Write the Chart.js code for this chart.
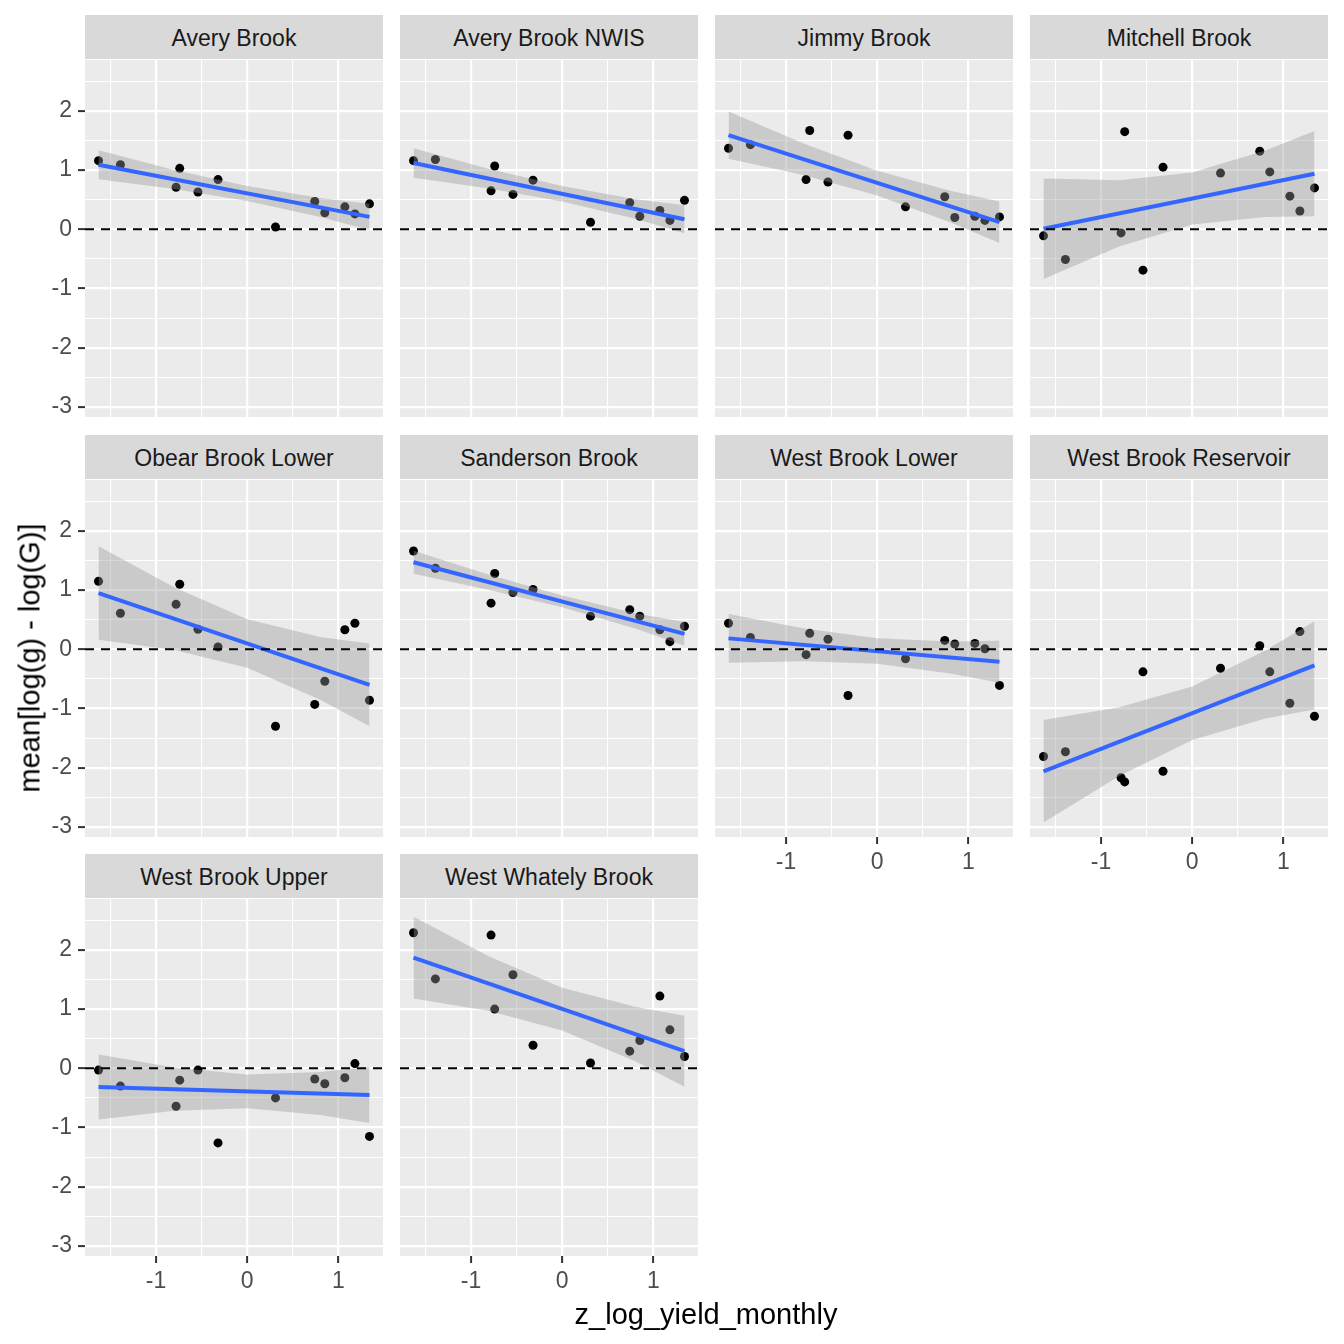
<!DOCTYPE html>
<html><head><meta charset="utf-8">
<script src="https://cdn.jsdelivr.net/npm/chart.js@4.4.1/dist/chart.umd.min.js"></script>
<style>
html,body{margin:0;padding:0;background:#fff;}
#root{position:relative;width:1344px;height:1344px;overflow:hidden;font-family:'Liberation Sans',Arial,sans-serif;background:#fff;}
.strip{position:absolute;background:#D9D9D9;color:#1A1A1A;font-size:23px;display:flex;align-items:center;justify-content:center;white-space:nowrap;box-sizing:border-box;padding-top:3px;}
canvas{position:absolute;}
.title{position:absolute;color:#000;font-size:29px;white-space:nowrap;transform-origin:center center;}
</style></head><body><div id="root"></div><script>
// ---------------- data ----------------
const SITES = ['Avery Brook','Avery Brook NWIS','Jimmy Brook','Mitchell Brook','Obear Brook Lower','Sanderson Brook','West Brook Lower','West Brook Reservoir','West Brook Upper','West Whately Brook'];
const X_VALUES = [-1.63, -1.39, -0.78, -0.74, -0.54, -0.32, 0.31, 0.74, 0.85, 1.07, 1.18, 1.34];

const Y_AVERY_BROOK          = [1.16, 1.09, 0.71, 1.03, 0.63, 0.84, 0.04, 0.47, 0.28, 0.38, 0.26, 0.43];
const Y_AVERY_BROOK_NWIS     = [1.16, 1.18, 0.65, 1.07, 0.59, 0.83, 0.12, 0.45, 0.22, 0.32, 0.15, 0.49];
const Y_JIMMY_BROOK          = [1.37, 1.43, 0.84, 1.67, 0.80, 1.59, 0.38, 0.55, 0.20, 0.22, 0.15, 0.21];
const Y_MITCHELL_BROOK       = [-0.11, -0.51, -0.06, 1.65, -0.69, 1.05, 0.95, 1.32, 0.97, 0.56, 0.31, 0.70];
const Y_OBEAR_BROOK_LOWER    = [1.15, 0.61, 0.76, 1.10, 0.34, 0.04, -1.30, -0.93, -0.54, 0.33, 0.44, -0.86];
const Y_SANDERSON_BROOK      = [1.66, 1.37, 0.78, 1.28, 0.96, 1.01, 0.56, 0.67, 0.56, 0.33, 0.13, 0.39];
const Y_WEST_BROOK_LOWER     = [0.44, 0.20, -0.09, 0.27, 0.17, -0.78, -0.16, 0.15, 0.09, 0.10, 0.01, -0.61];
const Y_WEST_BROOK_RESERVOIR = [-1.81, -1.73, -2.17, -2.24, -0.38, -2.06, -0.32, 0.06, -0.38, -0.91, 0.30, -1.13];
const Y_WEST_BROOK_UPPER     = [-0.03, -0.30, -0.64, -0.20, -0.03, -1.26, -0.50, -0.18, -0.26, -0.16, 0.08, -1.15];
const Y_WEST_WHATELY_BROOK   = [2.29, 1.51, 2.25, 1.00, 1.58, 0.39, 0.09, 0.29, 0.47, 1.22, 0.65, 0.20];

// fitted lm line, read at the two ends of the data range
const FIT_X = [-1.63, 1.34];
const FIT_AVERY_BROOK          = [1.09, 0.21];
const FIT_AVERY_BROOK_NWIS     = [1.12, 0.17];
const FIT_JIMMY_BROOK          = [1.59, 0.12];
const FIT_MITCHELL_BROOK       = [0.01, 0.94];
const FIT_OBEAR_BROOK_LOWER    = [0.95, -0.60];
const FIT_SANDERSON_BROOK      = [1.47, 0.26];
const FIT_WEST_BROOK_LOWER     = [0.185, -0.21];
const FIT_WEST_BROOK_RESERVOIR = [-2.06, -0.27];
const FIT_WEST_BROOK_UPPER     = [-0.315, -0.45];
const FIT_WEST_WHATELY_BROOK   = [1.87, 0.29];

// confidence band, read at these x positions
const BAND_X = [-1.63, -0.8, 0, 0.8, 1.34];
const UP_AVERY_BROOK          = [1.335, 1.00, 0.73, 0.53, 0.43];
const LO_AVERY_BROOK          = [0.845, 0.68, 0.48, 0.21, -0.01];
const UP_AVERY_BROOK_NWIS     = [1.37, 1.02, 0.73, 0.51, 0.405];
const LO_AVERY_BROOK_NWIS     = [0.87, 0.69, 0.47, 0.18, -0.065];
const UP_JIMMY_BROOK          = [1.99, 1.445, 0.99, 0.65, 0.47];
const LO_JIMMY_BROOK          = [1.19, 0.915, 0.57, 0.12, -0.23];
const UP_MITCHELL_BROOK       = [0.86, 0.83, 0.96, 1.33, 1.66];
const LO_MITCHELL_BROOK       = [-0.84, -0.29, 0.08, 0.21, 0.22];
const UP_OBEAR_BROOK_LOWER    = [1.74, 1.05, 0.51, 0.21, 0.10];
const LO_OBEAR_BROOK_LOWER    = [0.16, -0.01, -0.31, -0.85, -1.30];
const UP_SANDERSON_BROOK      = [1.665, 1.26, 0.91, 0.61, 0.46];
const LO_SANDERSON_BROOK      = [1.275, 1.00, 0.71, 0.35, 0.06];
const UP_WEST_BROOK_LOWER     = [0.595, 0.35, 0.185, 0.133, 0.145];
const LO_WEST_BROOK_LOWER     = [-0.225, -0.20, -0.245, -0.407, -0.565];
const UP_WEST_BROOK_RESERVOIR = [-1.195, -0.98, -0.63, -0.02, 0.475];
const LO_WEST_BROOK_RESERVOIR = [-2.925, -2.14, -1.53, -1.17, -1.015];
const UP_WEST_BROOK_UPPER     = [0.235, 0.012, -0.104, -0.06, 0.025];
const LO_WEST_BROOK_UPPER     = [-0.865, -0.718, -0.674, -0.79, -0.925];
const UP_WEST_WHATELY_BROOK   = [2.56, 1.89, 1.36, 1.04, 0.89];
const LO_WEST_WHATELY_BROOK   = [1.18, 0.97, 0.64, 0.12, -0.31];

const ZERO_LINE_Y = 0;
const X_MIN = -1.778, X_MAX = 1.488;
const Y_MIN = -3.17, Y_MAX = 2.86;
const X_TITLE = 'z_log_yield_monthly';
const Y_TITLE = 'mean[log(g) - log(G)]';

const PANEL_Y   = [Y_AVERY_BROOK, Y_AVERY_BROOK_NWIS, Y_JIMMY_BROOK, Y_MITCHELL_BROOK, Y_OBEAR_BROOK_LOWER, Y_SANDERSON_BROOK, Y_WEST_BROOK_LOWER, Y_WEST_BROOK_RESERVOIR, Y_WEST_BROOK_UPPER, Y_WEST_WHATELY_BROOK];
const PANEL_FIT = [FIT_AVERY_BROOK, FIT_AVERY_BROOK_NWIS, FIT_JIMMY_BROOK, FIT_MITCHELL_BROOK, FIT_OBEAR_BROOK_LOWER, FIT_SANDERSON_BROOK, FIT_WEST_BROOK_LOWER, FIT_WEST_BROOK_RESERVOIR, FIT_WEST_BROOK_UPPER, FIT_WEST_WHATELY_BROOK];
const PANEL_UP  = [UP_AVERY_BROOK, UP_AVERY_BROOK_NWIS, UP_JIMMY_BROOK, UP_MITCHELL_BROOK, UP_OBEAR_BROOK_LOWER, UP_SANDERSON_BROOK, UP_WEST_BROOK_LOWER, UP_WEST_BROOK_RESERVOIR, UP_WEST_BROOK_UPPER, UP_WEST_WHATELY_BROOK];
const PANEL_LO  = [LO_AVERY_BROOK, LO_AVERY_BROOK_NWIS, LO_JIMMY_BROOK, LO_MITCHELL_BROOK, LO_OBEAR_BROOK_LOWER, LO_SANDERSON_BROOK, LO_WEST_BROOK_LOWER, LO_WEST_BROOK_RESERVOIR, LO_WEST_BROOK_UPPER, LO_WEST_WHATELY_BROOK];

// ---------------- layout ----------------
const PANEL_LEFT = [85, 400, 715, 1030];
const PANEL_W = 298;
const STRIP_TOP = [15, 435, 854];
const STRIP_H = 44;
const PLOT_TOP = [60, 480, 899];
const PLOT_H = 357;
const X_AXIS_H = 45;
const FONT = "'Liberation Sans', Arial, sans-serif";

Chart.defaults.font.family = FONT;
const root = document.getElementById('root');

const panelBg = {
  id: 'panelBg',
  beforeDraw(chart) {
    const a = chart.chartArea, c = chart.ctx;
    c.save(); c.fillStyle = '#EBEBEB';
    c.fillRect(a.left, a.top, a.right - a.left, a.bottom - a.top);
    c.restore();
  }
};

const isMajor = ctx => ctx.tick && Number.isInteger(ctx.tick.value);
const pts = (xs, ys) => xs.map((x, j) => ({x: x, y: ys[j]}));

function zeroPad(s) { s.paddingLeft = 0; s.paddingRight = 0; s.paddingTop = 0; s.paddingBottom = 0; }

function makePanel(i) {
  const col = i % 4, row = Math.floor(i / 4);
  const hasY = col === 0;
  const hasX = row === 2 || (row === 1 && col >= 2);
  const yAxisW = hasY ? PANEL_LEFT[0] : 0;
  const xAxisH = hasX ? X_AXIS_H : 0;

  const strip = document.createElement('div');
  strip.className = 'strip';
  strip.style.left = PANEL_LEFT[col] + 'px';
  strip.style.top = STRIP_TOP[row] + 'px';
  strip.style.width = PANEL_W + 'px';
  strip.style.height = STRIP_H + 'px';
  strip.textContent = SITES[i];
  root.appendChild(strip);

  const w = PANEL_W + yAxisW, h = PLOT_H + xAxisH;
  const cv = document.createElement('canvas');
  cv.width = w; cv.height = h;
  cv.style.left = (PANEL_LEFT[col] - yAxisW) + 'px';
  cv.style.top = PLOT_TOP[row] + 'px';
  cv.style.width = w + 'px'; cv.style.height = h + 'px';
  root.appendChild(cv);

  new Chart(cv, {
    type: 'line',
    data: {
      datasets: [
        { data: pts(X_VALUES, PANEL_Y[i]), showLine: false, pointRadius: 4.5, pointHoverRadius: 4.5,
          pointBackgroundColor: '#000000', pointBorderWidth: 0, order: 10 },
        { data: pts(BAND_X, PANEL_UP[i]), fill: '+1', backgroundColor: 'rgba(153,153,153,0.4)',
          borderWidth: 0, pointRadius: 0, tension: 0, order: 5 },
        { data: pts(BAND_X, PANEL_LO[i]), fill: false, borderWidth: 0, pointRadius: 0, tension: 0, order: 6 },
        { data: pts(FIT_X, PANEL_FIT[i]), fill: false, borderColor: '#3366FF', borderWidth: 4,
          pointRadius: 0, tension: 0, order: 2 },
        { data: [{x: X_MIN, y: ZERO_LINE_Y}, {x: X_MAX, y: ZERO_LINE_Y}], fill: false, borderColor: '#000000',
          borderWidth: 2, borderDash: [9, 7], pointRadius: 0, order: 1 }
      ]
    },
    options: {
      responsive: false, maintainAspectRatio: false, animation: false,
      layout: { padding: 0, autoPadding: false },
      events: [],
      plugins: { legend: { display: false }, tooltip: { enabled: false } },
      scales: {
        x: {
          type: 'linear', min: X_MIN, max: X_MAX,
          border: { display: false },
          grid: { color: '#FFFFFF', lineWidth: c => isMajor(c) ? 2.2 : 1.1, drawTicks: hasX, tickLength: 7,
                  tickColor: c => isMajor(c) ? '#333333' : 'rgba(0,0,0,0)', tickWidth: 2 },
          ticks: { display: hasX, stepSize: 0.5, includeBounds: false, autoSkip: false, maxRotation: 0, minRotation: 0,
                   padding: 5, color: '#4D4D4D', font: { size: 23 },
                   callback: v => Number.isInteger(v) ? String(v) : '' },
          afterFit: s => { s.height = xAxisH; zeroPad(s); }
        },
        y: {
          type: 'linear', min: Y_MIN, max: Y_MAX,
          border: { display: false },
          grid: { color: '#FFFFFF', lineWidth: c => isMajor(c) ? 2.2 : 1.1, drawTicks: hasY, tickLength: 7,
                  tickColor: c => isMajor(c) ? '#333333' : 'rgba(0,0,0,0)', tickWidth: 2 },
          ticks: { display: hasY, stepSize: 0.5, includeBounds: false, autoSkip: false,
                   padding: 6, color: '#4D4D4D', font: { size: 23 },
                   callback: v => Number.isInteger(v) ? String(v) : '' },
          afterFit: s => { s.width = yAxisW; zeroPad(s); }
        }
      }
    },
    plugins: [panelBg]
  });
}

for (let i = 0; i < SITES.length; i++) makePanel(i);

const xt = document.createElement('div');
xt.className = 'title';
xt.textContent = X_TITLE;
xt.style.left = '706px'; xt.style.top = '1314px';
xt.style.transform = 'translate(-50%, -50%)';
root.appendChild(xt);

const yt = document.createElement('div');
yt.className = 'title';
yt.textContent = Y_TITLE;
yt.style.left = '30px'; yt.style.top = '658px';
yt.style.transform = 'translate(-50%, -50%) rotate(-90deg)';
root.appendChild(yt);
</script></body></html>
